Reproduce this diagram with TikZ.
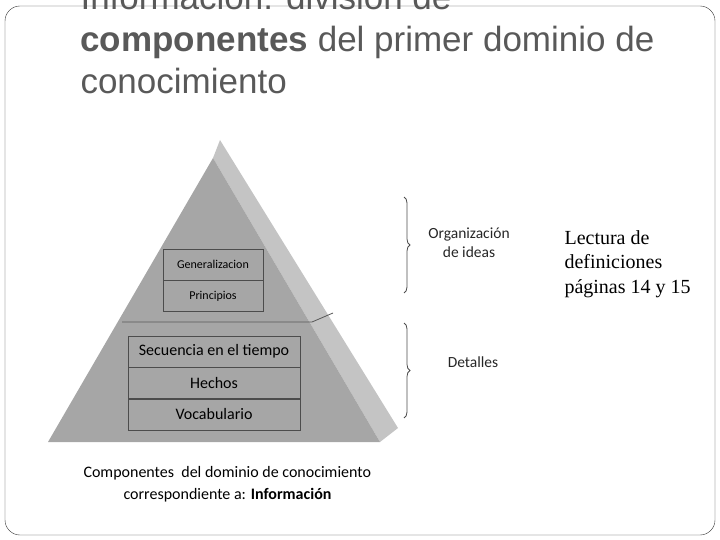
\documentclass[tikz,border=0pt]{standalone}
\usepackage{fontspec}
\setmainfont{Liberation Sans}
\newfontfamily\calfont{Carlito}
\newfontfamily\timesfont{Liberation Serif}
\usetikzlibrary{positioning, decorations.pathreplacing}
\definecolor{titlegray}{HTML}{595959}
\definecolor{frontgray}{HTML}{A6A6A6}
\definecolor{sidegray}{HTML}{C4C4C4}
\tikzset{
  cell/.style={draw=black!70, fill=frontgray, minimum height=31pt, inner sep=0pt, font=\calfont\fontsize{16}{17}\selectfont},
  note/.style={font=\calfont\fontsize{15.5}{19}\selectfont, align=center, text=black!85},
  brace/.style={decorate, decoration={brace, amplitude=6pt}, draw=black!70, thick}
}
\begin{document}
\begin{tikzpicture}[x=1pt, y=-1pt]
\useasboundingbox (0,0) rectangle (720,540);
\clip (0,0) rectangle (720,540);
\draw[black!80, rounded corners=15pt] (5,6) rectangle (715,535);

% title
\node[anchor=base west, text=titlegray, font=\fontsize{35}{40}\selectfont] (t1) at (77,10) {Información: división de};
\node[anchor=base west, text=titlegray, font=\fontsize{35}{40}\selectfont] (t2) at (77,52) {\textbf{componentes} del primer dominio de};
\node[anchor=base west, text=titlegray, font=\fontsize{35}{40}\selectfont] (t3) at (77,94) {conocimiento};

% pyramid
\fill[sidegray] (213,158) -- (220,140) -- (398,428) -- (380,442) -- cycle;
\fill[frontgray] (48,442) -- (213,158) -- (380,442) -- cycle;
\draw[black!65, thick] (122,322) -- (312,322) -- (333,313);

\node[cell, minimum width=100pt, font=\calfont\fontsize{12}{13}\selectfont] (gen) at (213,264.5) {Generalizacion};
\node[cell, minimum width=100pt, font=\calfont\fontsize{12}{13}\selectfont, below=0pt of gen] (pri) {Principios};
\node[cell, minimum width=172pt] (sec) at (214,351.5) {Secuencia en el tiempo};
\node[cell, minimum width=172pt, below=0pt of sec] (hec) {Hechos};
\node[cell, minimum width=172pt, below=0pt of hec] (voc) {Vocabulario};

% braces
\coordinate (b1t) at (404,197);
\coordinate (b1b) at (404,293);
\coordinate (b2t) at (404,323);
\coordinate (b2b) at (404,418);
\draw[brace] (b1t) -- (b1b);
\draw[brace] (b2t) -- (b2b);
\node[note] (org) at (469,243) {Organización\\de ideas};
\node[note] (det) at (473,362) {Detalles};

\node[anchor=north west, align=left, font=\timesfont\fontsize{20}{24.5}\selectfont] (lec) at (561,227) {Lectura de\\definiciones\\páginas 14 y 15};

% caption
\node[anchor=west, font=\calfont\fontsize{16}{18}\selectfont] (cap1) at (80,473) {Componentes\ \ del dominio de conocimiento};
\node[anchor=west, font=\calfont\fontsize{16}{18}\selectfont] (cap2) at (120,495) {correspondiente a: \textbf{Información}};
\end{tikzpicture}
\end{document}
